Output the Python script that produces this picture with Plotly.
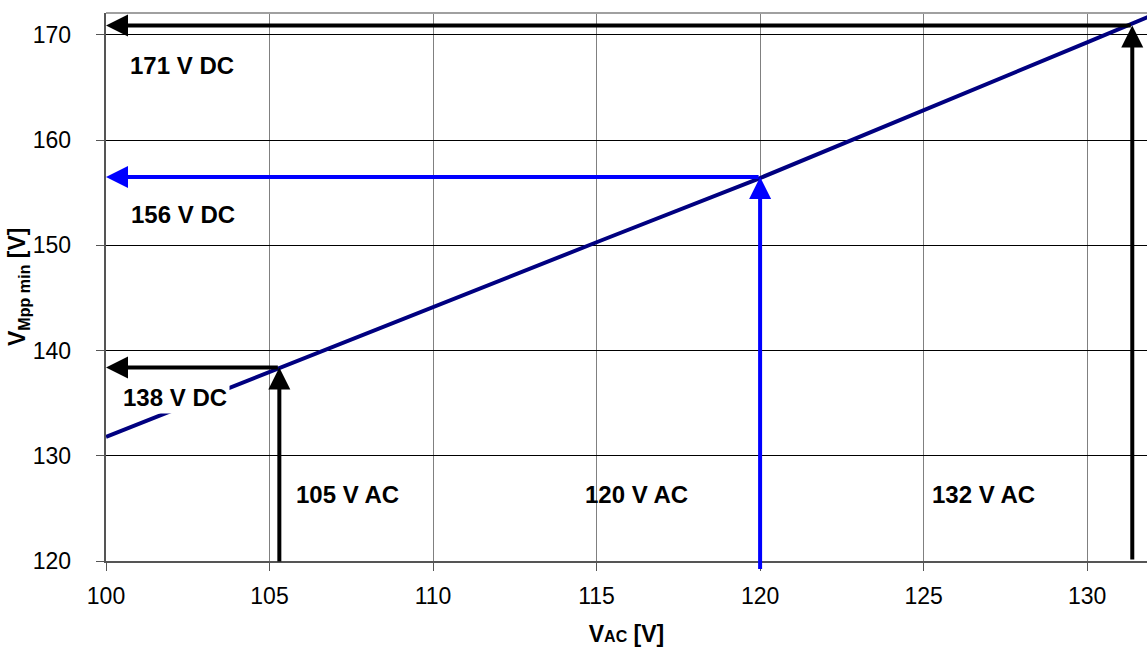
import plotly.graph_objects as go

# Data
vac = [100, 105, 110, 115, 120, 125, 130, 132]
vmpp = [131.8, 138.0, 144.2, 150.3, 156.4, 162.8, 169.3, 171.9]

# Marker arrows (VAC, VDC) and labels
arrow_ac = [105.3, 120.0, 131.38]
arrow_dc = [138.4, 156.5, 170.9]
arrow_colors = ["black", "#0000ff", "black"]
arrow_tail = [119.8, 119.1, 120.0]
dc_labels = ["138 V DC", "156 V DC", "171 V DC"]
dc_label_pos = [(100.43, 135.5), (100.67, 152.9), (100.64, 167.1)]
ac_labels = ["105 V AC", "120 V AC", "132 V AC"]
ac_label_pos = [(107.37, 126.3), (116.23, 126.3), (126.82, 126.3)]

x_ticks = [100, 105, 110, 115, 120, 125, 130]
y_ticks = [120, 130, 140, 150, 160, 170]

XR = [100, 131.83]
YR = [120, 172.09]

FONT = "Arial, Liberation Sans, sans-serif"

fig = go.Figure()
fig.add_trace(go.Scatter(x=vac, y=vmpp, mode="lines",
                         line=dict(color="#000080", width=4),
                         showlegend=False, hoverinfo="skip"))

anns = []
for xa, yd, col, tail in zip(arrow_ac, arrow_dc, arrow_colors, arrow_tail):
    anns.append(dict(x=xa, y=yd, ax=xa, ay=tail, xref="x", yref="y",
                     axref="x", ayref="y", showarrow=True, arrowhead=2,
                     arrowwidth=4, arrowsize=1.1, arrowcolor=col,
                     standoff=0, startstandoff=0, text=""))
    anns.append(dict(x=XR[0], y=yd, ax=xa, ay=yd, xref="x", yref="y",
                     axref="x", ayref="y", showarrow=True, arrowhead=2,
                     arrowwidth=4, arrowsize=1.1, arrowcolor=col,
                     standoff=0, startstandoff=0, text=""))

for t, (lx, ly) in zip(dc_labels, dc_label_pos):
    anns.append(dict(x=lx, y=ly, xref="x", yref="y", text=f"<b>{t}</b>",
                     showarrow=False, xanchor="left", yanchor="middle",
                     bgcolor="white", borderpad=2,
                     font=dict(family=FONT, size=24, color="black")))
for t, (lx, ly) in zip(ac_labels, ac_label_pos):
    anns.append(dict(x=lx, y=ly, xref="x", yref="y", text=f"<b>{t}</b>",
                     showarrow=False, xanchor="center", yanchor="middle",
                     font=dict(family=FONT, size=24, color="black")))

# y axis title as rotated annotation
anns.append(dict(x=-0.0845, y=0.5, xref="paper", yref="paper",
                 text="<b>V<sub>Mpp min</sub> [V]</b>", textangle=-90,
                 showarrow=False, xanchor="center", yanchor="middle",
                 font=dict(family=FONT, size=23, color="black")))

fig.update_layout(
    width=1147, height=650,
    margin=dict(l=106, r=0, t=13, b=89),
    paper_bgcolor="white", plot_bgcolor="white",
    font=dict(family=FONT, size=24, color="black"),
    annotations=anns,
    shapes=[dict(type="line", xref="paper", yref="paper", x0=0, x1=1, y0=1, y1=1,
                 line=dict(color="#a0a0a0", width=2))],
    xaxis=dict(range=XR, tickvals=x_ticks,
               showgrid=True, gridcolor="#808080", gridwidth=1,
               showline=True, linecolor="#555555", linewidth=2,
               ticks="outside", ticklen=8, tickcolor="#555555", tickwidth=1,
               ticklabelstandoff=5, zeroline=False,
               tickfont=dict(family=FONT, size=23, color="black"),
               title=dict(text="<b>V<span style='font-size:16px'>AC</span> [V]</b>",
                          font=dict(family=FONT, size=23, color="black"),
                          standoff=18)),
    yaxis=dict(range=YR, tickvals=y_ticks,
               ticktext=[f"{v}\u00a0" for v in y_ticks],
               showgrid=True, gridcolor="#000000", gridwidth=1,
               showline=True, linecolor="#555555", linewidth=2,
               ticks="outside", ticklen=8, tickcolor="#555555", tickwidth=1,
               ticklabelstandoff=14, zeroline=False,
               tickfont=dict(family=FONT, size=23, color="black")),
)

fig.write_html("out.html", config={"displayModeBar": False},
               post_script="document.body.style.margin='0';document.body.style.overflow='hidden';")
